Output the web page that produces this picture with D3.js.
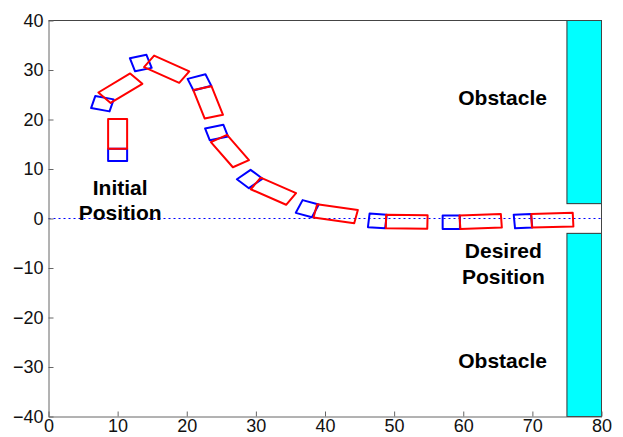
<!DOCTYPE html>
<html>
<head>
<meta charset="utf-8">
<script src="https://d3js.org/d3.v7.min.js"></script>
<style>
  body { margin: 0; background: #ffffff; }
</style>
</head>
<body>
<div id="graph"></div>
<script>
// poses of the vehicle: hitch point + heading of trailer (red) and cab (blue), degrees
var hitchX = [10.0, 8.1, 14.55, 22.27, 24.66, 29.98, 38.6, 48.82, 59.52, 69.89];
var hitchY = [14.1, 24.4, 31.75, 26.33, 16.17, 7.08, 1.53, -0.6, -0.77, -0.44];
var trailerAngle = [90, 40, -32, -74, -58, -31.5, -11, -1, 3, 2];
var cabAngle = [270, 256, 196, 110, 106, 134, 159, 175, 180, 184];

var xTicks = [0, 10, 20, 30, 40, 50, 60, 70, 80];
var yTicks = [-40, -30, -20, -10, 0, 10, 20, 30, 40];

// obstacles [x0, x1, y0, y1]
var obstacles = [[75, 80, 3, 40], [75, 80, -40, -3]];

var labels = [
  { text: "Initial", x: 10.37, y: 4.8 },
  { text: "Position", x: 10.37, y: -0.26 },
  { text: "Obstacle", x: 65.7, y: 22.97 },
  { text: "Desired", x: 65.8, y: -7.9 },
  { text: "Position", x: 65.8, y: -13.2 },
  { text: "Obstacle", x: 65.7, y: -30.3 }
];

var trailerLen = 6, cabLen = 2.5, bodyWidth = 2.75;

var width = 623, height = 437;
var margin = { top: 20.5, right: 21.5, bottom: 20.5, left: 48.5 };

var svg = d3.select('#graph').append('svg')
    .attr('width', width)
    .attr('height', height)
    .style('font-family', 'Liberation Sans, Arial, sans-serif');

var x = d3.scaleLinear().domain([0, 80]).range([margin.left, width - margin.right]);
var y = d3.scaleLinear().domain([-40, 40]).range([height - margin.bottom, margin.top]);

// reference line y = 0
svg.append("line")
    .attr("x1", x(0)).attr("x2", x(80))
    .attr("y1", y(0)).attr("y2", y(0))
    .style("stroke", "#0000ff")
    .style("stroke-width", 1)
    .style("stroke-dasharray", "2,3");

// obstacles
svg.selectAll('rect.obs')
    .data(obstacles)
    .enter()
    .append("rect")
      .attr("class", "obs")
      .attr("x", function(d){ return x(d[0]) })
      .attr("y", function(d){ return y(d[3]) })
      .attr("width", function(d){ return x(d[1]) - x(d[0]) })
      .attr("height", function(d){ return y(d[2]) - y(d[3]) })
      .style("fill", "#00ffff")
      .style("stroke", "#333333")
      .style("stroke-width", 1);

// rectangle of length len starting at hitch, pointing along ang
function bodyPath(hx, hy, ang, len){
    var a = ang * Math.PI / 180;
    var dx = Math.cos(a), dy = Math.sin(a);
    var nx = -dy * bodyWidth / 2, ny = dx * bodyWidth / 2;
    var pts = [
      [hx + nx, hy + ny],
      [hx + dx * len + nx, hy + dy * len + ny],
      [hx + dx * len - nx, hy + dy * len - ny],
      [hx - nx, hy - ny]
    ];
    return "M" + pts.map(function(p){ return x(p[0]) + "," + y(p[1]) }).join("L") + "Z";
}

var poses = hitchX.map(function(v, i){ return i });

svg.selectAll('path.cab')
    .data(poses)
    .enter()
    .append("path")
      .attr("class", "cab")
      .attr("d", function(i){ return bodyPath(hitchX[i], hitchY[i], cabAngle[i], cabLen) })
      .style("fill", "none")
      .style("stroke", "#0000ff")
      .style("stroke-width", 2)
      .style("stroke-linejoin", "round");

svg.selectAll('path.trailer')
    .data(poses)
    .enter()
    .append("path")
      .attr("class", "trailer")
      .attr("d", function(i){ return bodyPath(hitchX[i], hitchY[i], trailerAngle[i], trailerLen) })
      .style("fill", "none")
      .style("stroke", "#ff0000")
      .style("stroke-width", 2)
      .style("stroke-linejoin", "round");

// text annotations
svg.selectAll('text.note')
    .data(labels)
    .enter()
    .append("text")
      .attr("class", "note")
      .attr("x", function(d){ return x(d.x) })
      .attr("y", function(d){ return y(d.y) })
      .attr("text-anchor", "middle")
      .style("font-size", "21px")
      .style("font-weight", "bold")
      .style("fill", "#000000")
      .text(function(d){ return d.text });

// box (top + right)
svg.append("path")
    .attr("d", "M" + x(0) + "," + y(40) + "H" + x(80) + "V" + y(-40))
    .style("fill", "none")
    .style("stroke", "#444444")
    .style("stroke-width", 1);

// axes
var xAxis = svg.append("g")
    .attr("transform", "translate(0," + y(-40) + ")")
    .call(d3.axisBottom(x).tickValues(xTicks).tickSizeInner(-5).tickSizeOuter(0).tickPadding(3));
var yAxis = svg.append("g")
    .attr("transform", "translate(" + x(0) + ",0)")
    .call(d3.axisLeft(y).tickValues(yTicks).tickSizeInner(-5).tickSizeOuter(0).tickPadding(5));

[xAxis, yAxis].forEach(function(g){
    g.select(".domain").style("stroke", "#666666");
    g.selectAll(".tick line").style("stroke", "#666666");
    g.selectAll(".tick text")
      .style("font-size", "18px")
      .style("font-family", "Liberation Sans, Arial, sans-serif")
      .style("fill", "#111111");
});
</script>
</body>
</html>
